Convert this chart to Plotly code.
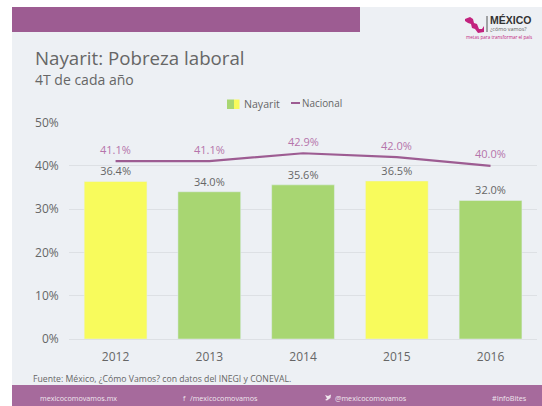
import plotly.graph_objects as go

years = ["2012", "2013", "2014", "2015", "2016"]
nayarit = [36.4, 34.0, 35.6, 36.5, 32.0]
nacional = [41.1, 41.1, 42.9, 42.0, 40.0]
bar_colors = ["#F8FB5C", "#A8D672", "#A8D672", "#F8FB5C", "#A8D672"]
y_ticks = [0, 10, 20, 30, 40, 50]

W, H = 542, 406
GREY = "#666666"
LINE = "#9D5C92"
FONT = "Open Sans"
FOOT = "#EFE6ED"


def px(v):
    return v / W


def py(v):
    return 1 - v / H


def rect(x0, y0, x1, y1, color):
    return dict(type="rect", xref="paper", yref="paper", x0=px(x0), x1=px(x1),
                y0=py(y1), y1=py(y0), fillcolor=color, line_width=0, layer="below")


def label(x, y, text, size, color=GREY, anchor="left", family=FONT):
    return dict(xref="paper", yref="paper", x=px(x), y=py(y), text=text, showarrow=False,
                xanchor=anchor, yanchor="middle", align=anchor, borderpad=0,
                font=dict(family=family, size=size, color=color))


def poly(points, color):
    d = "M " + " L ".join(f"{px(a)} {py(b)}" for a, b in points) + " Z"
    return dict(type="path", xref="paper", yref="paper", path=d, fillcolor=color, line_width=0)


fig = go.Figure()
fig.add_bar(x=years, y=nayarit, name="Nayarit", marker_color=bar_colors, width=0.67,
            text=[f"{v:.1f}%" for v in nayarit], textposition="outside", cliponaxis=False,
            textfont=dict(family=FONT, size=11, color=GREY))
fig.add_scatter(x=years, y=nacional, name="Nacional", mode="lines",
                line=dict(color=LINE, width=2.2))

shapes = [
    rect(12, 7, W, H, "#EDF0F4"),
    rect(12, 7, 360, 32, "#9D5C92"),
    rect(12, 385, W, H, "#A66A9C"),
    # legend swatches
    rect(227, 99.5, 234, 109, "#A8D672"),
    rect(234, 99.5, 239.5, 109, "#F8FB5C"),
    dict(type="line", xref="paper", yref="paper", x0=px(291), x1=px(300), y0=py(103), y1=py(103),
         line=dict(color=LINE, width=2)),
    # logo
    poly([(465, 19), (470, 17), (473, 19), (474, 23), (477, 24), (479, 29), (482, 29), (484, 26),
          (484, 32), (478, 33), (475, 29), (472, 28), (471, 24), (468, 23), (465, 21)], "#C2237E"),
    dict(type="line", xref="paper", yref="paper", x0=px(487), x1=px(487), y0=py(16), y1=py(32),
         line=dict(color="#555555", width=1)),
    # twitter glyph
    poly([(325, 395), (328, 396), (331, 394.5), (330.5, 398), (327, 400.5), (325, 400), (327, 398.5)], FOOT),
]

annotations = [
    label(34, 57, "Nayarit: Pobreza laboral", 18.7),
    label(34, 80, "4T de cada año", 14),
    label(243, 104, "Nayarit", 10.6),
    label(300.5, 102.5, "Nacional", 9.9),
    label(32, 379, "Fuente: México, ¿Cómo Vamos? con datos del INEGI y CONEVAL.", 8.7),
    label(39, 397.5, "mexicocomovamos.mx", 7.2, FOOT),
    label(182, 397.5, "f", 7.2, FOOT),
    label(188.5, 397.5, "/mexicocomovamos", 7.2, FOOT),
    label(333.5, 397.5, "@mexicocomovamos", 7.2, FOOT),
    label(490.5, 397.5, "#InfoBites", 7.2, FOOT),
    label(488.5, 19.5, "<b>MÉXICO</b>", 10.5, "#333333", family="Liberation Sans"),
    label(488.5, 29, "¿cómo vamos?", 5.4, "#666666"),
    label(464.5, 37.5, "metas para transformar el país", 4.6, "#C2237E"),
]
for i, value in enumerate(nacional):
    annotations.append(dict(x=i, y=value, xref="x", yref="y", text=f"{value:.1f}%",
                            showarrow=False, yshift=12, xanchor="center", yanchor="middle",
                            font=dict(family=FONT, size=11, color="#B574AB")))

fig.update_layout(
    width=W, height=H, margin=dict(l=0, r=0, t=0, b=0, autoexpand=False), autosize=False,
    paper_bgcolor="white", plot_bgcolor="rgba(0,0,0,0)", showlegend=False,
    shapes=shapes, annotations=annotations,
    xaxis=dict(domain=[px(68.7), px(537.4)], type="category", showgrid=False, zeroline=False,
               automargin=False, ticklabelstandoff=7,
               showline=True, linecolor="#DDE0E4", linewidth=1, ticks="", ticklen=0,
               tickfont=dict(family=FONT, size=12, color=GREY)),
    yaxis=dict(domain=[py(339), py(122.5)], range=[0, 50], tickvals=y_ticks,
               ticktext=[f"{v}%" for v in y_ticks], gridcolor="#DDE0E4", gridwidth=1,
               automargin=False, ticklabelstandoff=9,
               zeroline=False, showline=False, ticks="", anchor="x",
               tickfont=dict(family=FONT, size=12, color=GREY)),
)
fig.write_html("out.html", config={"displayModeBar": False},
               post_script="document.body.style.margin='0';document.documentElement.style.overflow='hidden';")
